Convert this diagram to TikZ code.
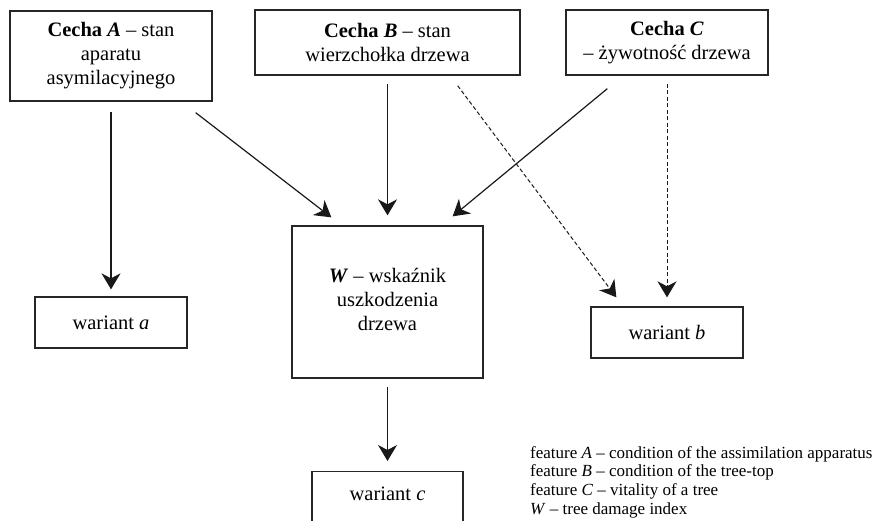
\documentclass[tikz,border=0pt]{standalone}
\usepackage{fontspec}
\setmainfont{Liberation Serif}
\usetikzlibrary{arrows.meta,calc}
\begin{document}
\begin{tikzpicture}[x=1pt,y=-1pt,
  box/.style={draw=black!85,line width=1.3pt,align=center,inner sep=0pt,
    font=\fontsize{20.5}{24}\selectfont},
  conn/.style={draw=black!90,line width=1.2pt,-{Stealth[length=16pt,width=19pt,inset=5pt]}},
  dconn/.style={conn,line width=1pt,dash pattern=on 4pt off 2.5pt},
  legend/.style={align=left,inner sep=0pt,anchor=north west,
    font=\fontsize{17}{18.7}\selectfont}]
\useasboundingbox (0,0) rectangle (877,521);
\begin{scope}
\clip (0,0) rectangle (877,521);
\node[box,minimum width=202,minimum height=90] (A) at (111,56)
  {\textbf{Cecha \textit{A}} -- stan\\aparatu\\asymilacyjnego};
\node[box,minimum width=265,minimum height=65] (B) at (387.5,42.5)
  {\textbf{Cecha \textit{B}} -- stan\\wierzchołka drzewa};
\node[box,minimum width=202,minimum height=65] (C) at (667,42.5)
  {\textbf{Cecha \textit{C}}\\-- żywotność drzewa};
\node[box,minimum width=152,minimum height=51] (a) at (111,322.5)
  {wariant \textit{a}};
\node[box,minimum width=191,minimum height=152] (W) at (387.5,302)
  {\raisebox{7pt}{\begin{tabular}{@{}c@{}}\textbf{\textit{W}} -- wskaźnik\\uszkodzenia\\drzewa\end{tabular}}};
\node[box,minimum width=152,minimum height=51] (b) at (667,332.5)
  {wariant \textit{b}};
\node[box,minimum width=151,minimum height=51,anchor=north] (c) at (387.5,471)
  {\raisebox{7pt}{wariant \textit{c}}};
\end{scope}

\draw[conn,shorten <=10pt,shorten >=7pt] (A.south) -- (a.north);
\draw[conn] ($(A.south east)+(-17,11)$) -- ($(W.north west)+(40,-8)$);
\draw[conn,shorten <=8pt,shorten >=10pt] (B.south) -- (W.north);
\draw[conn] ($(C.south west)+(42,13)$) -- ($(W.north east)+(-31,-9)$);
\draw[dconn] ($(B.south east)+(-63,10)$) -- ($(b.north west)+(26,-9)$);
\draw[dconn,shorten <=8pt,shorten >=9pt] (C.south) -- (b.north);
\draw[conn,shorten <=8pt,shorten >=10pt] (W.south) -- (c.north);

\node[legend] (leg) at (530,446)
  {feature \textit{A} -- condition of the assimilation apparatus\\
   feature \textit{B} -- condition of the tree-top\\
   feature \textit{C} -- vitality of a tree\\
   \textit{W} -- tree damage index};
\end{tikzpicture}
\end{document}
